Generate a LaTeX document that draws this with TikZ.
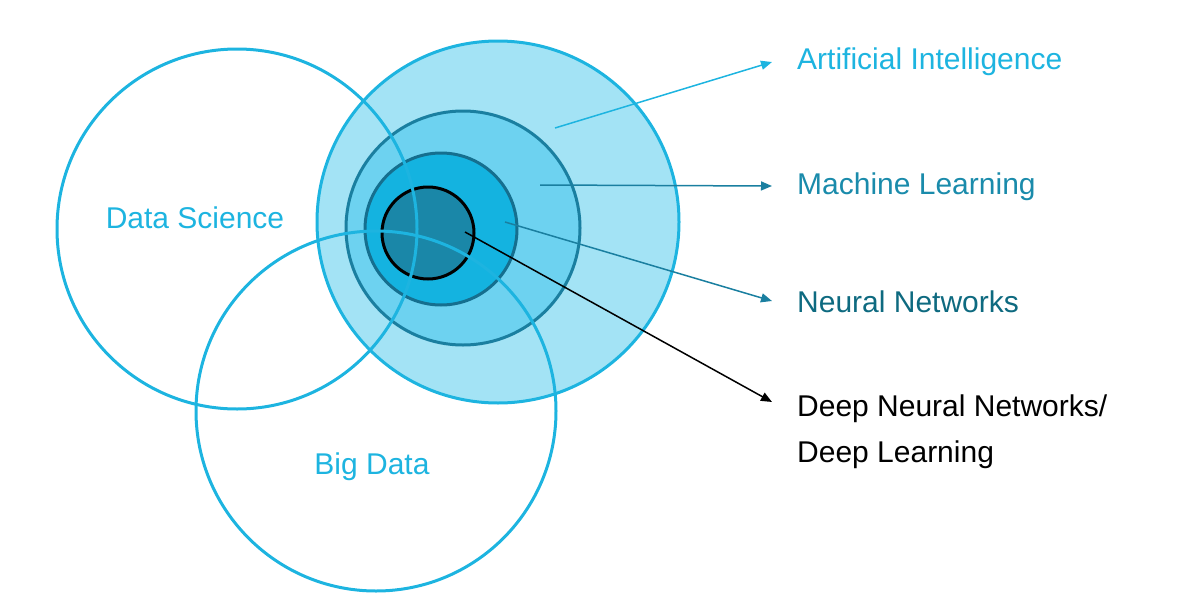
\documentclass[tikz,border=0pt]{standalone}
\usepackage{fontspec}
\setmainfont{Liberation Sans}
\usetikzlibrary{arrows.meta}
\definecolor{lb}{HTML}{1DB4E0}
\definecolor{aif}{HTML}{A3E3F5}
\definecolor{mlf}{HTML}{6DD2F0}
\definecolor{mls}{HTML}{1A7FA0}
\definecolor{nnf}{HTML}{14B3E0}
\definecolor{nns}{HTML}{156F8F}
\definecolor{dnf}{HTML}{1A87A8}
\definecolor{mlt}{HTML}{1A8BAB}
\definecolor{nnt}{HTML}{0E6A80}
\tikzset{
 ring/.style={circle,draw=lb,line width=3pt,inner sep=0pt},
 lab/.style={font=\fontsize{30}{36}\selectfont,anchor=west,inner sep=0pt},
 arr/.style={line width=1.5pt,-{Triangle[length=11pt,width=9pt]}}
}
\begin{document}
\begin{tikzpicture}[x=1pt,y=-1pt]
\useasboundingbox (0,0) rectangle (1200,600);
\node[ring,fill=aif,minimum size=362pt] (ai) at (498,222) {};
\node[ring,draw=mls,fill=mlf,minimum size=234pt] (ml) at (463,228) {};
\node[ring,draw=nns,fill=nnf,minimum size=152pt] (nn) at (441,229) {};
\node[ring,draw=black,fill=dnf,minimum size=92pt] (dn) at (428,233) {};
\node[ring,minimum size=360pt] (ds) at (237,229) {};
\node[ring,minimum size=360pt] (bd) at (376,411) {};
\node[font=\fontsize{30}{36}\selectfont,text=lb] (dst) at (195,218) {Data Science};
\node[font=\fontsize{30}{36}\selectfont,text=lb] (bdt) at (372,467) {Big Data};
\node[lab,text=lb] (ait) at (797,62) {Artificial Intelligence};
\node[lab,text=mlt] (mlt) at (797,187) {Machine Learning};
\node[lab,text=nnt] (nnt) at (797,302) {Neural Networks};
\node[lab,text=black,align=left] (dnt) at (797,432) {Deep Neural Networks/\\[10pt]Deep Learning};
\coordinate (a1) at (555,128); \coordinate (a2) at (772,62);
\coordinate (m1) at (540,185); \coordinate (m2) at (772,186);
\coordinate (n1) at (505,222); \coordinate (n2) at (772,301);
\coordinate (d1) at (465,232); \coordinate (d2) at (772,402);
\draw[arr,draw=lb,fill=lb] (a1) -- (a2);
\draw[arr,draw=mls,fill=mls] (m1) -- (m2);
\draw[arr,draw=mls,fill=mls] (n1) -- (n2);
\draw[arr,draw=black] (d1) -- (d2);
\end{tikzpicture}
\end{document}
